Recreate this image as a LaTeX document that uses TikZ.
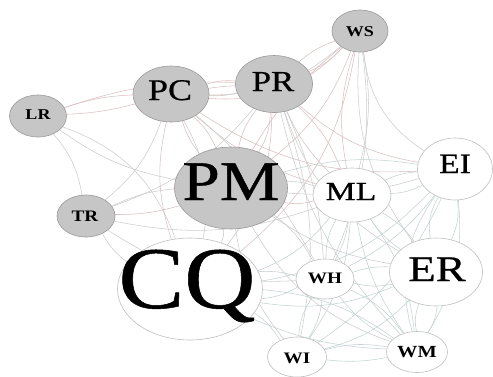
\documentclass[tikz,border=0pt]{standalone}
\usepackage{fontspec}
\setmainfont{Liberation Serif}
\newfontfamily\heavyserif{Liberation Serif}[BoldFont=Liberation Serif, BoldFeatures={FakeBold=0.6}]
\usepackage{graphicx}
\usetikzlibrary{shapes.geometric,backgrounds}
\newcommand\sxl[2][1.2]{\scalebox{#1}[1]{#2}}
\tikzset{
  gnode/.style={ellipse, draw=gray!80, fill=gray!45, line width=0.6pt, inner sep=0pt},
  wnode/.style={ellipse, draw=gray!50, fill=white, line width=0.6pt, inner sep=0pt},
  lab/.style={inner sep=0pt, anchor=base, text=black},
  ep/.style={draw=red!25!gray!40, line width=0.55pt},
  eg/.style={draw=gray!40, line width=0.55pt},
  et/.style={draw=teal!35!gray!35, line width=0.55pt},
}
\begin{document}
\begin{tikzpicture}[x=1pt,y=-1pt]
\useasboundingbox (0,0) rectangle (493,376);
% nodes
\node[gnode, minimum width=56pt, minimum height=42pt] (WS) at (360,31) {};
\node[gnode, minimum width=77pt, minimum height=57pt] (PR) at (274,84) {};
\node[gnode, minimum width=76pt, minimum height=56pt] (PC) at (171,94) {};
\node[gnode, minimum width=57pt, minimum height=42pt] (LR) at (38,116) {};
\node[gnode, minimum width=58pt, minimum height=42pt] (TR) at (86,216) {};
\node[gnode, minimum width=113pt, minimum height=82pt] (PM) at (231,188) {};
\node[wnode, minimum width=145pt, minimum height=102pt] (CQ) at (190,289) {};
\node[wnode, minimum width=78pt, minimum height=54pt] (ML) at (352,195) {};
\node[wnode, minimum width=75pt, minimum height=62pt] (EI) at (455,169) {};
\node[wnode, minimum width=93pt, minimum height=68pt] (ER) at (436,272) {};
\node[wnode, minimum width=58pt, minimum height=40pt] (WH) at (325,279) {};
\node[wnode, minimum width=59pt, minimum height=40pt] (WI) at (297,357) {};
\node[wnode, minimum width=61pt, minimum height=41pt] (WM) at (417,352) {};
% labels
\node[lab, font=\heavyserif\bfseries\fontsize{88}{88}\selectfont] (CQt) at (187,308) {\sxl[1.12]{CQ}};
\node[lab, font=\heavyserif\bfseries\fontsize{56}{56}\selectfont] (PMt) at (231,200) {\sxl{PM}};
\node[lab, font=\heavyserif\bfseries\fontsize{30}{30}\selectfont] (PCt) at (170,100) {\sxl{PC}};
\node[lab, font=\heavyserif\bfseries\fontsize{29}{29}\selectfont] (PRt) at (273,91) {\sxl{PR}};
\node[lab, font=\bfseries\fontsize{15}{15}\selectfont] (WSt) at (360,36) {\sxl{WS}};
\node[lab, font=\bfseries\fontsize{15}{15}\selectfont] (LRt) at (38,119) {\sxl{LR}};
\node[lab, font=\bfseries\fontsize{16}{16}\selectfont] (TRt) at (85,221) {\sxl{TR}};
\node[lab, font=\heavyserif\bfseries\fontsize{26}{26}\selectfont] (MLt) at (351,200) {\sxl[1.3]{ML}};
\node[lab, font=\heavyserif\bfseries\fontsize{28}{28}\selectfont] (EIt) at (455,173) {\sxl{EI}};
\node[lab, font=\heavyserif\bfseries\fontsize{36}{36}\selectfont] (ERt) at (437,281) {\sxl[1.25]{ER}};
\node[lab, font=\bfseries\fontsize{16}{16}\selectfont] (WHt) at (325,283) {\sxl{WH}};
\node[lab, font=\bfseries\fontsize{16}{16}\selectfont] (WIt) at (297,363) {\sxl{WI}};
\node[lab, font=\bfseries\fontsize{17}{17}\selectfont] (WMt) at (417,357) {\sxl{WM}};
% edges
\begin{pgfonlayer}{background}
\foreach \a/\b/\s/\g in {
  LR/PC/ep/8, LR/PC/ep/-6, LR/PR/ep/10, LR/PM/eg/-12, LR/CQ/eg/25, LR/TR/eg/15,
  PC/PR/ep/10, PC/PR/ep/-8, PC/PR/ep/3, PC/PM/ep/12, PC/PM/ep/-10, PC/WS/ep/-25,
  PC/TR/eg/15, PC/CQ/eg/20, PC/CQ/ep/-15, PC/ML/ep/-12, PC/EI/ep/-18, PC/WH/eg/10,
  PR/WS/ep/10, PR/WS/ep/-12, PR/PM/ep/15, PR/PM/ep/-12, PR/CQ/ep/18, PR/ML/ep/12,
  PR/ML/ep/-10, PR/EI/ep/-15, PR/ER/eg/-20, PR/WH/eg/10, PR/WM/eg/-15, PR/WI/eg/15,
  WS/PM/ep/15, WS/PM/ep/-10, WS/ML/eg/12, WS/ML/ep/-14, WS/EI/eg/-25, WS/ER/eg/-20,
  WS/WH/eg/15, WS/CQ/ep/20, WS/PC/eg/20,
  TR/PM/eg/10, TR/PM/ep/-8, TR/CQ/eg/-12, TR/ML/eg/-15, TR/WH/eg/-18, TR/PR/eg/-15,
  PM/CQ/ep/12, PM/ML/eg/10, PM/ML/ep/-12, PM/WH/eg/12, PM/ER/eg/-12, PM/WI/eg/-15,
  PM/WM/eg/-20, PM/EI/eg/-10, PM/EI/et/12,
  CQ/ML/et/-15, CQ/WH/et/10, CQ/WH/et/-12, CQ/ER/et/-15, CQ/WI/et/12, CQ/WM/et/15,
  CQ/EI/et/-18, CQ/WM/et/-10,
  ML/EI/et/10, ML/EI/et/-12, ML/ER/et/12, ML/ER/et/-10, ML/WH/et/10, ML/WH/et/-15,
  ML/WI/et/15, ML/WM/et/-12, ML/WM/et/15,
  EI/ER/et/15, EI/ER/et/-20, EI/WH/et/12, EI/WM/et/-25, EI/WM/et/18, EI/WI/et/15,
  ER/WH/et/12, ER/WH/et/-10, ER/WI/et/15, ER/WM/et/15, ER/WM/et/-15,
  WH/WI/et/12, WH/WI/et/-15, WH/WM/et/15, WH/WM/et/-12, WI/WM/et/12, WI/WM/et/-8}
  \draw[\s] (\a) to[bend left=\g] (\b);
\end{pgfonlayer}
\end{tikzpicture}
\end{document}
